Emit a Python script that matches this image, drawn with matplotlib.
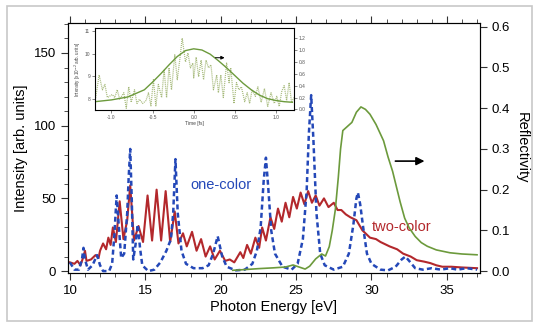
import matplotlib
matplotlib.use("Agg")
import matplotlib.pyplot as plt
from matplotlib.ticker import MultipleLocator
from matplotlib.patches import Rectangle

plt.rcParams['font.family'] = ['Liberation Sans', 'DejaVu Sans']

# one-color spectrum (blue dashed)
blue_x = [10.0, 10.3, 10.6, 10.8, 10.9, 11.0, 11.2, 11.5, 11.8, 12.0, 12.2, 12.6, 12.8, 12.95,
          13.1, 13.25, 13.4, 13.6, 13.8, 13.9, 14.0, 14.1, 14.2, 14.35, 14.5, 14.65, 14.8, 15.2,
          15.6, 16.0, 16.4, 16.7, 16.85, 17.0, 17.15, 17.4, 17.7, 18.2, 18.8, 19.2, 19.5, 19.8,
          20.1, 20.4, 21.0, 21.6, 22.1, 22.4, 22.65, 22.85, 23.0, 23.15, 23.35, 23.6, 24.1, 24.7,
          25.1, 25.45, 25.7, 25.85, 26.0, 26.15, 26.35, 26.6, 26.9, 27.5, 28.1, 28.5, 28.8, 29.0,
          29.1, 29.25, 29.45, 29.7, 30.0, 30.6, 31.1, 31.6, 32.0, 32.25, 32.5, 32.9, 33.4, 34.0,
          34.6, 35.2, 35.7, 36.3, 37.0]
blue_y = [6, 1, 1, 8, 16, 8, 1, 4, 11, 4, 0, 0, 5, 25,
          52, 30, 9, 12, 40, 65, 84, 50, 8, 18, 32, 16, 4, 0,
          1, 6, 14, 22, 40, 77, 40, 14, 5, 2, 2, 4, 12, 24,
          10, 3, 0.5, 1, 5, 14, 30, 62, 78, 58, 28, 12, 3, 1,
          5, 22, 55, 95, 121, 90, 40, 12, 4, 1, 3, 12, 32, 50,
          54, 46, 30, 12, 5, 1, 0.5, 3, 8, 10, 7, 2, 1, 2,
          1, 2, 1, 2, 1]

# two-color spectrum (red solid)
red_x = [10.0, 10.3, 10.5, 10.7, 10.9, 11.0, 11.1, 11.4, 11.7, 11.9, 12.0, 12.2, 12.4, 12.55,
         12.7, 12.85, 13.05, 13.3, 13.55, 13.8, 14.0, 14.25, 14.55, 14.85, 15.15, 15.45, 15.75,
         16.05, 16.35, 16.65, 16.95, 17.2, 17.5, 17.75, 18.1, 18.4, 18.7, 19.0, 19.3, 19.6,
         19.95, 20.3, 20.6, 20.9, 21.3, 21.5, 21.75, 22.0, 22.3, 22.55, 22.75, 23.0, 23.3, 23.55,
         23.8, 24.05, 24.3, 24.55, 24.8, 25.05, 25.3, 25.55, 25.8, 26.05, 26.3, 26.55, 26.85,
         27.15, 27.5, 27.75, 28.0, 28.3, 28.6, 29.0, 29.4, 29.9, 30.3, 30.6, 31.2, 31.7, 32.1,
         32.6, 33.0, 33.5, 33.9, 34.3, 34.7, 35.3, 36.0, 37.0]
red_y = [6, 5, 7, 4, 10, 14, 7, 8, 11, 9, 14, 19, 15, 23,
         18, 30, 20, 48, 22, 35, 59, 21, 31, 20, 52, 21, 56,
         21, 55, 20, 41, 19, 26, 17, 27, 14, 22, 10, 17, 8,
         14, 7, 8, 6, 13, 9, 18, 12, 23, 16, 30, 21, 37, 29,
         43, 34, 47, 37, 51, 43, 54, 46, 55, 47, 52, 45, 50,
         44, 47, 42, 42, 39, 37, 35, 28, 23, 22, 20, 17, 15, 12,
         10, 7.5, 6.5, 5.5, 4, 3, 3, 2.5, 2]

# reflectivity (green, right axis)
refl_x = [20.8, 21.3, 22.5, 23.5, 24.3, 24.8, 25.2, 25.6, 25.9, 26.3, 26.7, 26.95, 27.2, 27.4,
          27.6, 27.8, 27.95, 28.1, 28.4, 28.7, 29.0, 29.3, 29.6, 29.9, 30.3, 30.8, 31.1, 31.4,
          31.7, 31.9, 32.2, 32.5, 32.9, 33.3, 33.7, 34.3, 35.2, 36.0, 37.0]
refl_y = [0.002, 0.003, 0.006, 0.008, 0.010, 0.015, 0.010, 0.005, 0.012, 0.030, 0.042, 0.037,
          0.060, 0.100, 0.150, 0.230, 0.300, 0.345, 0.355, 0.365, 0.390, 0.403, 0.397, 0.385,
          0.360, 0.320, 0.280, 0.245, 0.200, 0.170, 0.130, 0.106, 0.085, 0.070, 0.061, 0.052,
          0.045, 0.042, 0.040]

# inset: temporal profile
fit_t = [-1.2, -1.0, -0.8, -0.6, -0.5, -0.4, -0.3, -0.2, -0.1, 0.0, 0.1, 0.2, 0.3, 0.4, 0.5,
         0.6, 0.7, 0.8, 0.9, 1.0, 1.1, 1.2]
fit_v = [0.13, 0.16, 0.21, 0.33, 0.46, 0.60, 0.75, 0.89, 0.99, 1.02, 1.00, 0.93, 0.82, 0.70,
         0.57, 0.44, 0.33, 0.24, 0.18, 0.15, 0.13, 0.12]
raw_t = [-1.2, -1.15, -1.11, -1.08, -1.05, -0.99, -0.96, -0.93, -0.9, -0.85, -0.82, -0.79, -0.76,
         -0.72, -0.69, -0.66, -0.62, -0.58, -0.55, -0.52, -0.49, -0.46, -0.43, -0.39, -0.36,
         -0.33, -0.3, -0.27, -0.23, -0.2, -0.17, -0.14, -0.1, -0.07, -0.04, -0.01, 0.0, 0.03,
         0.06, 0.09, 0.12, 0.15, 0.18, 0.21, 0.24, 0.28, 0.3, 0.33, 0.36, 0.4, 0.43, 0.45, 0.49,
         0.52, 0.55, 0.58, 0.62, 0.65, 0.68, 0.71, 0.75, 0.78, 0.82, 0.86, 0.9, 0.94, 0.98, 1.01,
         1.04, 1.07, 1.1, 1.13, 1.16, 1.19, 1.22]
raw_v = [0.13, 0.58, 0.33, 0.42, 0.20, 0.25, 0.20, 0.33, 0.17, 0.28, 0.02, 0.38, 0.12,
         0.33, 0.10, 0.17, 0.10, 0.15, 0.28, 0.06, 0.50, 0.06, 0.42, 0.20, 0.67,
         0.20, 0.70, 0.33, 0.92, 0.50, 0.83, 1.20, 0.80, 0.95, 0.70, 0.78, 0.53, 0.88,
         0.55, 0.83, 0.50, 0.83, 0.70, 0.75, 0.33, 0.58, 0.28, 0.58, 0.20, 0.78, 0.45, 0.70, 0.10,
         0.45, 0.33, 0.38, 0.13, 0.28, 0.10, 0.33, 0.22, 0.38, 0.12, 0.35, 0.05, 0.28, 0.10, 0.22,
         0.05, 0.30, 0.40, 0.15, 0.45, 0.12, 0.20]

c_blue = '#2448b8'
c_red = '#b3282c'
c_green = '#6c9a3c'

fig = plt.figure(figsize=(5.35, 3.24), dpi=100)
fig.patches.append(Rectangle((0.013, 0.009), 0.981, 0.972, transform=fig.transFigure,
                             fill=False, edgecolor='#c8c8c8', lw=1.2))

ax = fig.add_axes([0.127, 0.157, 0.770, 0.772])
ax.plot(red_x, red_y, color=c_red, lw=1.5)
ax.plot(blue_x, blue_y, color=c_blue, lw=1.8, ls=(0, (2, 1.3)))
ax.set_xlim(9.87, 37.19)
ax.set_ylim(-1.4, 170.6)
ax.xaxis.set_major_locator(MultipleLocator(5))
ax.xaxis.set_minor_locator(MultipleLocator(1))
ax.yaxis.set_major_locator(MultipleLocator(50))
ax.yaxis.set_minor_locator(MultipleLocator(10))
ax.tick_params(which='both', direction='out', top=True, labelsize=9.5, color='#333333')
ax.tick_params(which='major', length=5)
ax.tick_params(which='minor', length=3)
ax.set_xlabel('Photon Energy [eV]', fontsize=10.5, labelpad=2)
ax.set_ylabel('Intensity [arb. units]', fontsize=10.5, labelpad=4)
ax.text(18.0, 59, 'one-color', color=c_blue, fontsize=10.5, va='center')
ax.text(30.0, 30, 'two-color', color=c_red, fontsize=10.5, va='center')
for s in ax.spines.values():
    s.set_color('#333333')

ax2 = ax.twinx()
ax2.plot(refl_x, refl_y, color=c_green, lw=1.2)
ax2.set_ylim(-0.005, 0.609)
ax2.yaxis.set_major_locator(MultipleLocator(0.1))
ax2.yaxis.set_major_formatter(matplotlib.ticker.FormatStrFormatter('%.1f'))
ax2.tick_params(direction='out', length=5, labelsize=9.5, color='#333333')
ax2.set_ylabel('Reflectivity', rotation=270, fontsize=10.5, labelpad=13)
ax2.annotate('', xy=(33.7, 0.27), xytext=(31.4, 0.27),
             arrowprops=dict(arrowstyle='-|>', color='k', lw=1.2, mutation_scale=12))

# inset
ins = fig.add_axes([0.1776, 0.6605, 0.372, 0.253], zorder=5)
ins.set_xlim(-1.2, 1.22)
ins.set_ylim(7.52, 11.13)
ins.set_yticks([8, 9, 10, 11])
ins.set_xticks([-1.0, -0.5, 0.0, 0.5, 1.0])
ins.set_xticklabels(['-1.0', '-0.5', '0.0', '0.5', '1.0'])
ins.tick_params(direction='out', length=2, width=0.5, labelsize=3.5, pad=1.5,
                colors='#555555')
ins.set_xlabel('Time [fs]', fontsize=3.5, labelpad=1, color='#444444')
ins.set_ylabel('Intensity [x10$^{-2}$ arb. units]', fontsize=3.3, labelpad=1,
               color='#444444')
for s in ins.spines.values():
    s.set_linewidth(0.6)
    s.set_color('#555555')

insr = ins.twinx()
insr.set_ylim(-0.01, 1.37)
insr.set_yticks([0.0, 0.2, 0.4, 0.6, 0.8, 1.0, 1.2])
insr.yaxis.set_major_formatter(matplotlib.ticker.FormatStrFormatter('%.1f'))
insr.tick_params(direction='out', length=2, width=0.5, labelsize=3.5, pad=1.5,
                 colors='#555555')
insr.plot(raw_t, raw_v, color='#a4b878', lw=0.9, ls=(0, (0.8, 0.8)))
insr.plot(fit_t, fit_v, color=c_green, lw=1.0)
insr.annotate('', xy=(0.41, 0.87), xytext=(0.23, 0.87),
              arrowprops=dict(arrowstyle='-|>', color='k', lw=0.7, mutation_scale=5))

fig.savefig('out.png', dpi=100)
